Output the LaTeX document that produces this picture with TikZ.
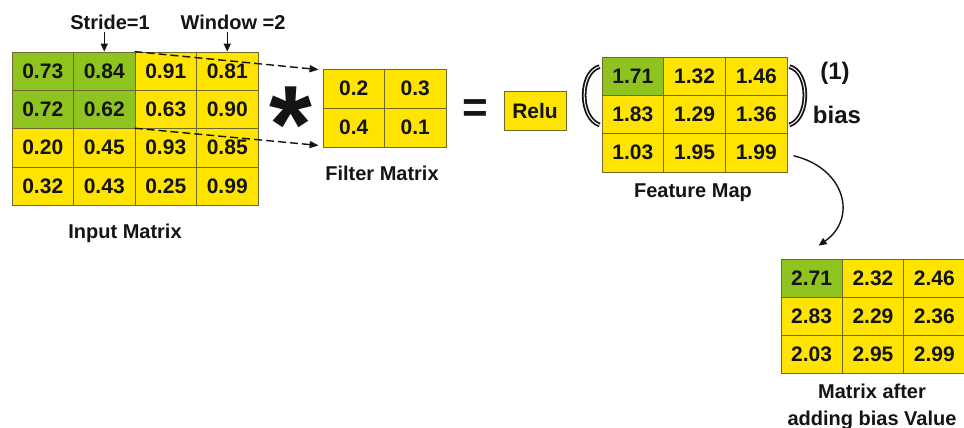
\documentclass[tikz,border=0pt]{standalone}
\usepackage{fontspec}
\setmainfont{Liberation Sans}
\usetikzlibrary{arrows.meta}
\definecolor{cellyellow}{HTML}{FFE400}
\definecolor{cellgreen}{HTML}{8FC31F}
\definecolor{gridline}{HTML}{6E6A2E}
\definecolor{ink}{HTML}{141414}
\tikzset{
  cell/.style={draw=gridline, line width=0.8pt, fill=cellyellow, inner sep=0pt,
    minimum width=#1, text=ink, font=\fontsize{21}{23}\selectfont\bfseries},
  cell/.default=61.5pt,
  hot/.style={fill=cellgreen},
  caption/.style={text=ink, font=\fontsize{20}{22}\selectfont\bfseries, inner sep=0pt},
  bigcaption/.style={text=ink, font=\fontsize{24}{26}\selectfont\bfseries, inner sep=0pt},
  pointer/.style={-{Triangle[length=8pt,width=7pt]}, line width=1.4pt, draw=ink},
  dashlink/.style={-{Triangle[length=9pt,width=7pt]}, line width=1.4pt, draw=ink, dash pattern=on 8pt off 4pt},
  bracket/.style={draw=ink, double=white, double distance=1pt, line width=1.8pt}
}
\begin{document}
\begin{tikzpicture}[x=1pt, y=-1pt]
\useasboundingbox (0,0) rectangle (964,428);

% input matrix 4x4
\foreach \r/\row in {1/{0.73,0.84,0.91,0.81}, 2/{0.72,0.62,0.63,0.90},
                     3/{0.20,0.45,0.93,0.85}, 4/{0.32,0.43,0.25,0.99}}{
  \foreach \v [count=\c] in \row {
    \pgfmathsetmacro{\xx}{12+61.5*(\c-0.5)}
    \pgfmathsetmacro{\yy}{52+38.3*(\r-0.5)}
    \ifnum\r<3 \ifnum\c<3 \def\extra{hot}\else\def\extra{}\fi\else\def\extra{}\fi
    \node[cell, minimum height=38.3pt, \extra] (in\r\c) at (\xx,\yy) {\v};
  }
}

% filter matrix 2x2
\foreach \r/\row in {1/{0.2,0.3}, 2/{0.4,0.1}}{
  \foreach \v [count=\c] in \row {
    \pgfmathsetmacro{\xx}{323+61.5*(\c-0.5)}
    \pgfmathsetmacro{\yy}{69+39*(\r-0.5)}
    \node[cell, minimum height=39pt] (f\r\c) at (\xx,\yy) {\v};
  }
}

% feature map 3x3
\foreach \r/\row in {1/{1.71,1.32,1.46}, 2/{1.83,1.29,1.36}, 3/{1.03,1.95,1.99}}{
  \foreach \v [count=\c] in \row {
    \pgfmathsetmacro{\xx}{602+61.7*(\c-0.5)}
    \pgfmathsetmacro{\yy}{57+38.3*(\r-0.5)}
    \ifnum\r=1 \ifnum\c=1 \def\extra{hot}\else\def\extra{}\fi\else\def\extra{}\fi
    \node[cell=61.7pt, minimum height=38.3pt, \extra] (fm\r\c) at (\xx,\yy) {\v};
  }
}

% matrix after adding the bias
\foreach \r/\row in {1/{2.71,2.32,2.46}, 2/{2.83,2.29,2.36}, 3/{2.03,2.95,2.99}}{
  \foreach \v [count=\c] in \row {
    \pgfmathsetmacro{\xx}{781+61.3*(\c-0.5)}
    \pgfmathsetmacro{\yy}{259+38*(\r-0.5)}
    \ifnum\r=1 \ifnum\c=1 \def\extra{hot}\else\def\extra{}\fi\else\def\extra{}\fi
    \node[cell=61.3pt, minimum height=38pt, \extra] (rs\r\c) at (\xx,\yy) {\v};
  }
}

% activation box
\node[cell=62pt, minimum height=39pt] (relu) at (535,110.5) {Relu};

% operators
\node[text=ink, inner sep=0pt, anchor=base, font=\fontsize{110}{110}\selectfont\bfseries] (conv) at (291,162) {*};
\node[text=ink, inner sep=0pt, font=\fontsize{44}{44}\selectfont\bfseries] (eq) at (475,111) {=};

% captions
\node[caption] (stride) at (110,22) {Stride=1};
\node[caption] (window) at (233,22) {Window =2};
\node[caption] (inlbl) at (125,233) {Input Matrix};
\node[caption] (flbl) at (382,173) {Filter Matrix};
\node[caption] (fmlbl) at (693,193) {Feature Map};
\node[bigcaption] (one) at (835,73) {(1)};
\node[bigcaption] (bias) at (837,115) {bias};
\node[caption, align=center, font=\fontsize{20}{27}\selectfont\bfseries] (rslbl) at (872,407) {Matrix after\\adding bias Value};

% stride / window pointers
\draw[pointer] ([yshift=-2pt]stride.south -| in12.north) -- (in12.north);
\draw[pointer] ([yshift=-2pt]window.south -| in14.north) -- (in14.north);

% window projected onto the filter
\draw[dashlink] (in13.north west) -- ([xshift=-4pt,yshift=-1pt]f11.north west);
\draw[dashlink] (in33.north west) -- ([xshift=-4pt,yshift=2pt]f21.south west);

% brackets around the feature map
\draw[bracket] ([xshift=-2pt,yshift=-10pt]fm11.north west) .. controls (579,72) and (579,118) .. ([xshift=-2pt,yshift=9pt]fm21.south west);
\draw[bracket] ([xshift=2pt,yshift=-10pt]fm13.north east) .. controls (810,72) and (810,118) .. ([xshift=2pt,yshift=9pt]fm23.south east);

% feature map to biased matrix
\draw[pointer] ([xshift=6pt,yshift=-3pt]fm33.east) .. controls (845,168) and (858,218) .. ([xshift=7pt,yshift=13pt]rs11.north);
\end{tikzpicture}
\end{document}
